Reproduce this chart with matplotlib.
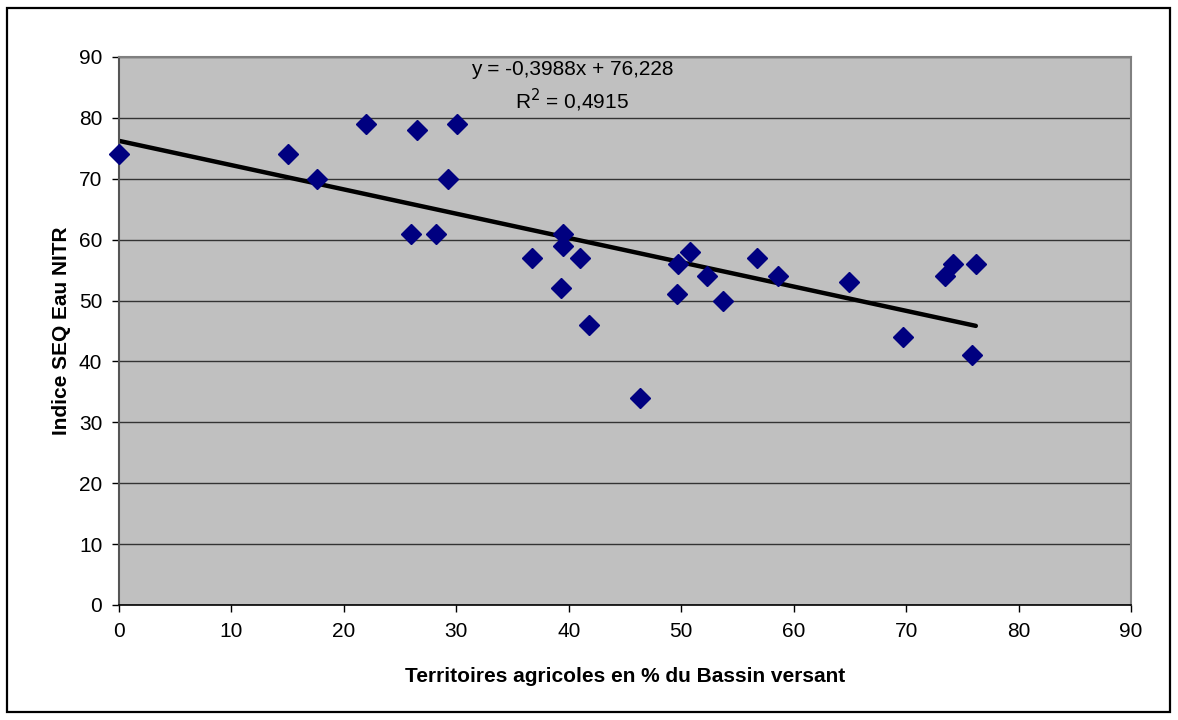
import numpy as np
import matplotlib.pyplot as plt
from matplotlib.patches import Rectangle

plt.rcParams["font.family"] = ["Liberation Sans", "DejaVu Sans"]

# Data
agri_pct = [0, 15, 17.6, 22.0, 26.5, 30.1, 29.3, 26.0, 28.2, 36.7, 39.5, 39.5,
            41.0, 39.3, 41.8, 46.3, 49.7, 49.6, 50.8, 52.3, 53.7, 56.7, 58.6,
            64.9, 69.7, 73.5, 74.2, 76.2, 75.9]
seq_nitr = [74, 74, 70, 79, 78, 79, 70, 61, 61, 57, 61, 59,
            57, 52, 46, 34, 56, 51, 58, 54, 50, 57, 54,
            53, 44, 54, 56, 56, 41]

# Trend line as shown in the chart label
slope = -0.3988
intercept = 76.228
r2 = 0.4915

fig = plt.figure(figsize=(11.78, 7.2), dpi=100)
fig.patches.append(Rectangle((7 / 1178, 8 / 720), 1163 / 1178, 704 / 720,
                             transform=fig.transFigure, fill=False,
                             edgecolor="black", linewidth=1.6))

ax = fig.add_axes([119 / 1178, 1 - 605 / 720, (1131 - 119) / 1178, (605 - 57) / 720])
ax.set_facecolor("#C0C0C0")

ax.set_xlim(0, 90)
ax.set_ylim(0, 90)
ax.set_xticks(np.arange(0, 91, 10))
ax.set_yticks(np.arange(0, 91, 10))
ax.yaxis.grid(True, color="#333333", linewidth=1)
ax.set_axisbelow(True)

for side in ["top", "right"]:
    ax.spines[side].set_color("#808080")
    ax.spines[side].set_linewidth(1.5)
ax.spines["left"].set_color("#555555")
ax.spines["left"].set_linewidth(1.5)
ax.spines["bottom"].set_color("black")
ax.spines["bottom"].set_linewidth(1.2)

ax.tick_params(direction="out", length=5, width=1, color="black",
               labelsize=15, pad=7)

# Trend line
xs = np.array([min(agri_pct), max(agri_pct)])
ax.plot(xs, slope * xs + intercept, color="black", linewidth=3.2,
        solid_capstyle="round", zorder=2)

# Points
ax.plot(agri_pct, seq_nitr, linestyle="none", marker="D", markersize=10,
        color="#000080", zorder=3, clip_on=False)

eq = f"y = {slope:.4f}x + {intercept:.3f}".replace(".", ",")
ax.text(40.3, 87.9, eq, ha="center", va="center", fontsize=15)
ax.text(40.3, 82.9, f"R$^2$ = {r2:.4f}".replace(".", ","), ha="center",
        va="center", fontsize=15)

ax.set_xlabel("Territoires agricoles en % du Bassin versant", fontsize=15,
              fontweight="bold", labelpad=19)
ax.set_ylabel("Indice SEQ Eau NITR", fontsize=15, fontweight="bold",
              labelpad=6)

fig.savefig("out.png", dpi=100)
